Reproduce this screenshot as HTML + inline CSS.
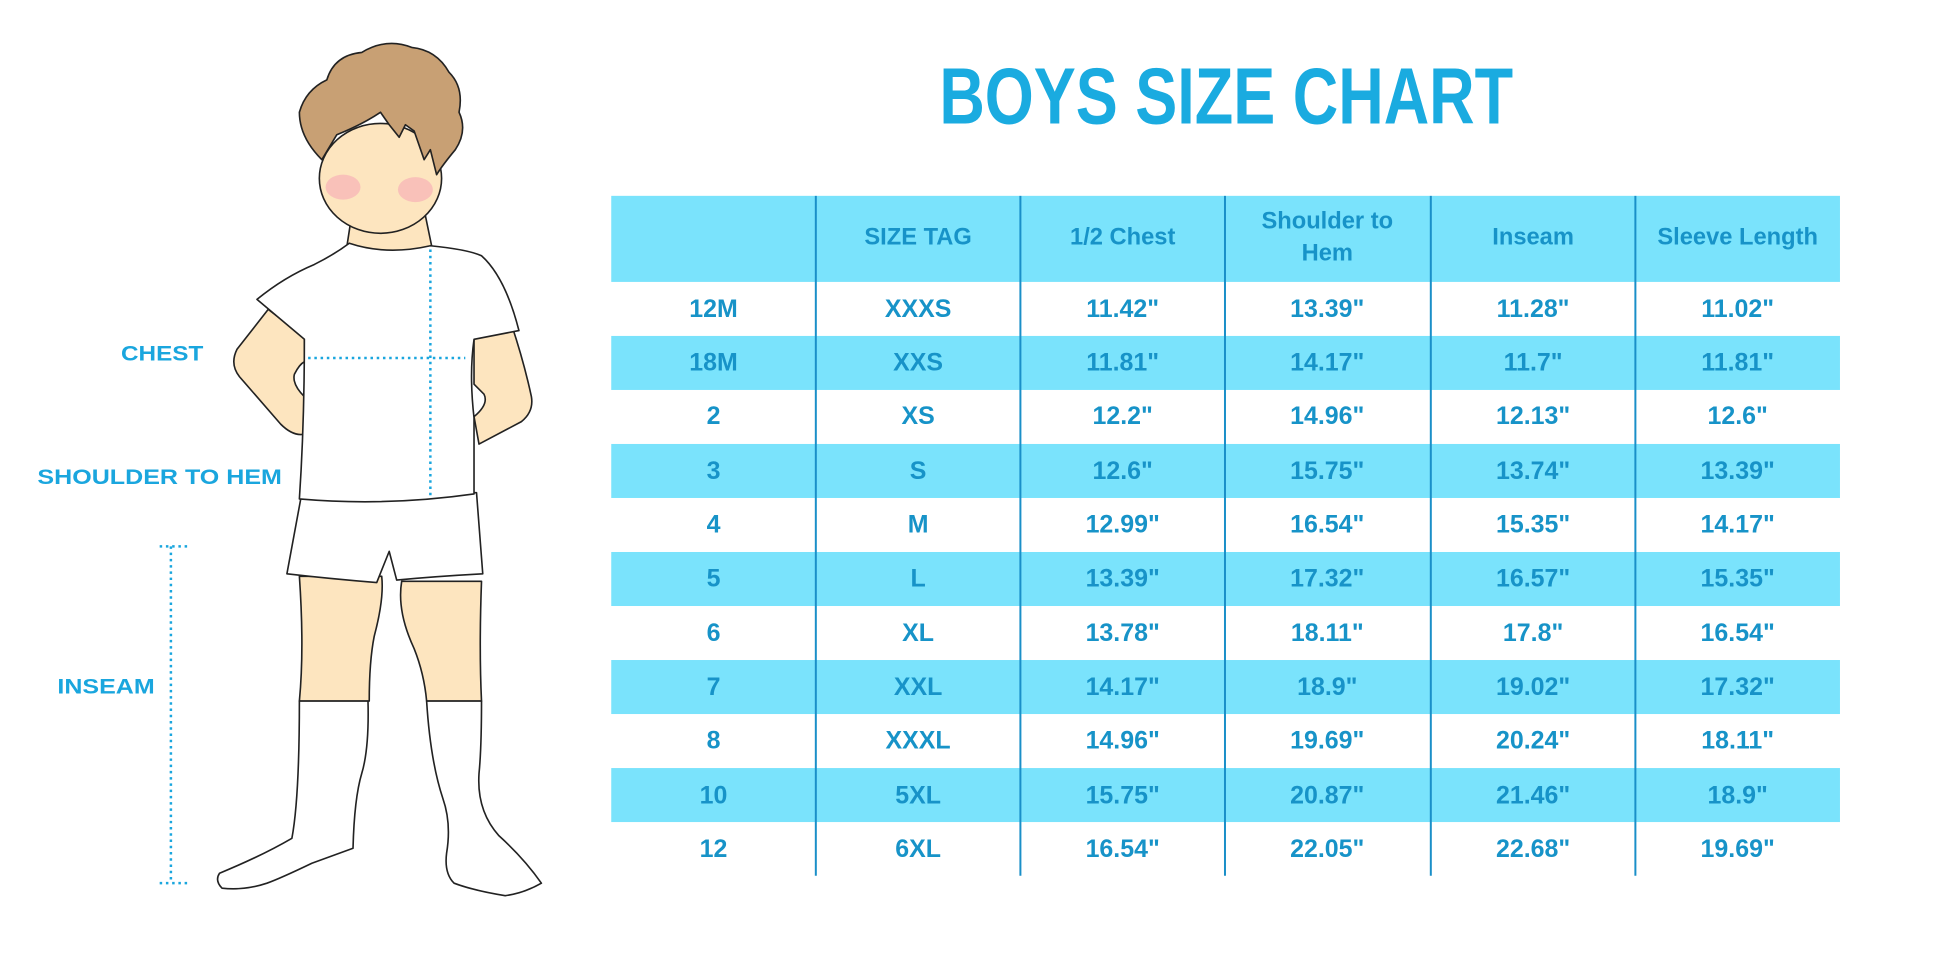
<!DOCTYPE html>
<html><head><meta charset="utf-8"><style>
html,body{margin:0;padding:0;background:#fff;}
svg{display:block;}
.t{font-family:"Liberation Sans",sans-serif;font-weight:bold;fill:#1793c8;text-anchor:middle;}
.l{font-family:"Liberation Sans",sans-serif;font-weight:bold;fill:#1aa6de;}
</style></head><body>
<svg width="1946" height="973" viewBox="0 0 1560 780" xmlns="http://www.w3.org/2000/svg">
<rect width="1560" height="780" fill="#fff"/>
<text x="983" y="99" font-family="Liberation Sans, sans-serif" font-weight="bold" font-size="64" fill="#1aabe0" text-anchor="middle" textLength="460" lengthAdjust="spacingAndGlyphs">BOYS SIZE CHART</text>

<rect x="490" y="157" width="985" height="69" fill="#7ae3fc"/>
<g fill="#7ae3fc">
<rect x="490" y="269.3" width="985" height="43.3"/>
<rect x="490" y="355.9" width="985" height="43.3"/>
<rect x="490" y="442.5" width="985" height="43.3"/>
<rect x="490" y="529.1" width="985" height="43.3"/>
<rect x="490" y="615.7" width="985" height="43.3"/>
</g>
<g stroke="#1a8fc8" stroke-width="1.6">
<line x1="654" y1="157" x2="654" y2="702"/>
<line x1="818" y1="157" x2="818" y2="702"/>
<line x1="982" y1="157" x2="982" y2="702"/>
<line x1="1147" y1="157" x2="1147" y2="702"/>
<line x1="1311" y1="157" x2="1311" y2="702"/>
</g>
<g class="t" font-size="19">
<text x="736" y="196">SIZE TAG</text>
<text x="900" y="196">1/2 Chest</text>
<text x="1064" y="183">Shoulder to</text>
<text x="1064" y="209">Hem</text>
<text x="1229" y="196">Inseam</text>
<text x="1393" y="196">Sleeve Length</text>
</g>
<g class="t" font-size="20">
<text x="572" y="254">12M</text><text x="736" y="254">XXXS</text><text x="900" y="254">11.42"</text><text x="1064" y="254">13.39"</text><text x="1229" y="254">11.28"</text><text x="1393" y="254">11.02"</text>
<text x="572" y="297">18M</text><text x="736" y="297">XXS</text><text x="900" y="297">11.81"</text><text x="1064" y="297">14.17"</text><text x="1229" y="297">11.7"</text><text x="1393" y="297">11.81"</text>
<text x="572" y="340">2</text><text x="736" y="340">XS</text><text x="900" y="340">12.2"</text><text x="1064" y="340">14.96"</text><text x="1229" y="340">12.13"</text><text x="1393" y="340">12.6"</text>
<text x="572" y="384">3</text><text x="736" y="384">S</text><text x="900" y="384">12.6"</text><text x="1064" y="384">15.75"</text><text x="1229" y="384">13.74"</text><text x="1393" y="384">13.39"</text>
<text x="572" y="427">4</text><text x="736" y="427">M</text><text x="900" y="427">12.99"</text><text x="1064" y="427">16.54"</text><text x="1229" y="427">15.35"</text><text x="1393" y="427">14.17"</text>
<text x="572" y="470">5</text><text x="736" y="470">L</text><text x="900" y="470">13.39"</text><text x="1064" y="470">17.32"</text><text x="1229" y="470">16.57"</text><text x="1393" y="470">15.35"</text>
<text x="572" y="514">6</text><text x="736" y="514">XL</text><text x="900" y="514">13.78"</text><text x="1064" y="514">18.11"</text><text x="1229" y="514">17.8"</text><text x="1393" y="514">16.54"</text>
<text x="572" y="557">7</text><text x="736" y="557">XXL</text><text x="900" y="557">14.17"</text><text x="1064" y="557">18.9"</text><text x="1229" y="557">19.02"</text><text x="1393" y="557">17.32"</text>
<text x="572" y="600">8</text><text x="736" y="600">XXXL</text><text x="900" y="600">14.96"</text><text x="1064" y="600">19.69"</text><text x="1229" y="600">20.24"</text><text x="1393" y="600">18.11"</text>
<text x="572" y="644">10</text><text x="736" y="644">5XL</text><text x="900" y="644">15.75"</text><text x="1064" y="644">20.87"</text><text x="1229" y="644">21.46"</text><text x="1393" y="644">18.9"</text>
<text x="572" y="687">12</text><text x="736" y="687">6XL</text><text x="900" y="687">16.54"</text><text x="1064" y="687">22.05"</text><text x="1229" y="687">22.68"</text><text x="1393" y="687">19.69"</text>
</g>

<g stroke="#222" stroke-width="1.3" stroke-linejoin="round">
<path d="M215 248 L190 280 Q184 292 192 302 L225 340 Q235 350 244 348 L244 318 Q234 308 236 300 Q240 292 244 290 L244 270 Z" fill="#fde5bf"/>
<path d="M380 268 L410 260 Q420 290 426 318 Q428 330 418 338 L384 356 L380 334 Q392 324 388 316 L380 308 Z" fill="#fde5bf"/>
<path d="M240 462 Q244 520 240 562 L296 562 Q296 530 300 510 Q308 480 306 462 Z" fill="#fde5bf"/>
<path d="M322 466 Q318 490 332 520 Q340 540 342 562 L386 562 Q384 520 386 466 Z" fill="#fde5bf"/>
<path d="M240 562 L295 562 Q296 600 290 620 Q284 640 283 680 L250 692 Q225 704 214 708 Q196 714 178 712 Q172 706 176 700 Q210 686 234 672 Q240 640 240 562 Z" fill="#fff"/>
<path d="M342 562 L386 562 Q386 600 384 620 Q382 650 400 670 Q420 688 434 708 Q420 716 405 718 Q380 714 364 708 Q356 700 358 684 Q362 660 355 640 Q345 610 342 562 Z" fill="#fff"/>
<path d="M242 395 L382 395 L387 460 Q350 462 318 465 L312 442 L302 467 Q265 464 230 460 Z" fill="#fff"/>
<path d="M282 172 L278 198 Q310 210 346 197 L340 168 Z" fill="#fde5bf"/>
<path d="M280 195 Q310 205 345 197 Q375 200 386 205 Q405 222 416 265 L380 272 Q376 300 380 335 L380 396 Q310 406 240 400 Q244 340 244 272 L206 240 Q228 222 252 212 Q268 204 280 195 Z" fill="#fff"/>
<ellipse cx="305" cy="143" rx="49" ry="44" fill="#fde5bf"/>
<ellipse cx="275" cy="150" rx="14" ry="10" fill="#f7b8b8" stroke="none" opacity="0.8"/>
<ellipse cx="333" cy="152" rx="14" ry="10" fill="#f7b8b8" stroke="none" opacity="0.8"/>
<path d="M258 128 Q240 110 240 90 Q245 72 262 64 Q268 44 290 42 Q310 30 330 38 Q350 40 360 58 Q372 70 368 90 Q375 105 365 120 Q355 132 350 140 L345 120 L340 128 L332 105 L325 100 L320 110 L312 100 L305 90 Q290 100 270 108 L258 128 Z" fill="#c8a074"/>
</g>
<g stroke="#1aa6de" stroke-width="2" stroke-dasharray="2 3">
<line x1="247" y1="287" x2="373" y2="287"/>
<line x1="345" y1="200" x2="345" y2="397"/>
<line x1="137" y1="438" x2="137" y2="708"/>
<line x1="128" y1="438" x2="152" y2="438"/>
<line x1="128" y1="708" x2="152" y2="708"/>
</g>
<text class="l" x="97" y="289" font-size="17" textLength="66" lengthAdjust="spacingAndGlyphs">CHEST</text>
<text class="l" x="30" y="388" font-size="17" textLength="196" lengthAdjust="spacingAndGlyphs">SHOULDER TO HEM</text>
<text class="l" x="46" y="556" font-size="17" textLength="78" lengthAdjust="spacingAndGlyphs">INSEAM</text>
</svg>
</body></html>
